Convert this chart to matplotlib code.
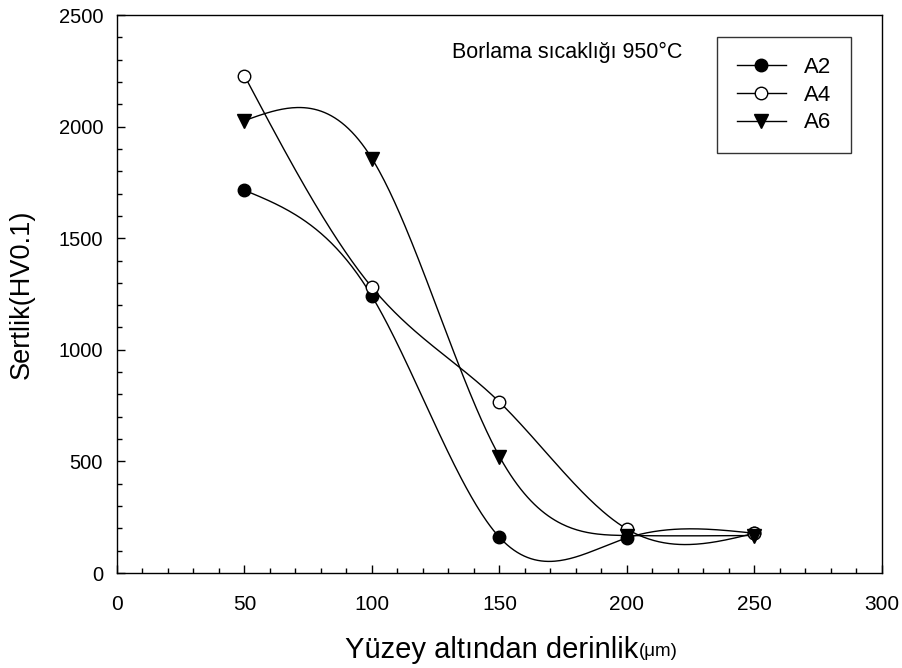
import numpy as np
import matplotlib.pyplot as plt
from matplotlib.ticker import MultipleLocator

plt.rcParams['font.family'] = ['Liberation Sans', 'DejaVu Sans']

# Data
depth = [50, 100, 150, 200, 250]
a2 = [1715, 1240, 160, 157, 178]
a4 = [2228, 1280, 766, 197, 178]
a6 = [2027, 1857, 522, 168, 168]


def natural_spline(x, y, n=300):
    """Natural cubic spline through the points (smooth line like SigmaPlot)."""
    x = np.asarray(x, float)
    y = np.asarray(y, float)
    k = len(x)
    h = np.diff(x)
    A = np.zeros((k, k))
    r = np.zeros(k)
    A[0, 0] = A[-1, -1] = 1.0
    for i in range(1, k - 1):
        A[i, i - 1] = h[i - 1]
        A[i, i] = 2 * (h[i - 1] + h[i])
        A[i, i + 1] = h[i]
        r[i] = 6 * ((y[i + 1] - y[i]) / h[i] - (y[i] - y[i - 1]) / h[i - 1])
    M = np.linalg.solve(A, r)
    xs = np.linspace(x[0], x[-1], n)
    idx = np.clip(np.searchsorted(x, xs) - 1, 0, k - 2)
    x0, x1 = x[idx], x[idx + 1]
    hh = x1 - x0
    ys = (M[idx] * (x1 - xs) ** 3 / (6 * hh) + M[idx + 1] * (xs - x0) ** 3 / (6 * hh)
          + (y[idx] / hh - M[idx] * hh / 6) * (x1 - xs)
          + (y[idx + 1] / hh - M[idx + 1] * hh / 6) * (xs - x0))
    return xs, ys


fig = plt.figure(figsize=(9.02, 6.68), dpi=100)
ax = fig.add_axes([0.1297, 0.1422, 0.848, 0.8353])

series = [("A2", a2, 'o', 'black', 9), ("A4", a4, 'o', 'white', 9), ("A6", a6, 'v', 'black', 10.5)]
for name, vals, mk, fc, ms in series:
    xs, ys = natural_spline(depth, vals)
    ax.plot(xs, ys, color='black', lw=1.0, zorder=2)
    ax.plot(depth, vals, linestyle='none', marker=mk, markersize=ms,
            markerfacecolor=fc, markeredgecolor='black', markeredgewidth=1.0, zorder=3)
    # legend proxy
    ax.plot([], [], color='black', lw=1.0, marker=mk, markersize=ms,
            markerfacecolor=fc, markeredgecolor='black', label=name)

ax.set_xlim(0, 300)
ax.set_ylim(0, 2500)
ax.xaxis.set_major_locator(MultipleLocator(50))
ax.xaxis.set_minor_locator(MultipleLocator(10))
ax.yaxis.set_major_locator(MultipleLocator(500))
ax.yaxis.set_minor_locator(MultipleLocator(100))
ax.tick_params(which='both', direction='in', top=False, right=False)
ax.tick_params(which='major', length=6, width=1.0)
ax.tick_params(which='minor', length=3.5, width=1.0)
ax.tick_params(axis='x', pad=16, labelsize=15)
ax.tick_params(axis='y', pad=10, labelsize=14.5)
for s in ax.spines.values():
    s.set_linewidth(1.0)

ax.set_xlabel("Yüzey altından derinlik", fontsize=21)
ax.xaxis.set_label_coords(0.49, -0.138)
ax.xaxis.label.set_va('center')
ax.annotate("(μm)", xy=(1, 0), xycoords=ax.xaxis.label, xytext=(0.5, 3),
            textcoords='offset points', fontsize=13.5, ha='left', va='bottom')

ax.set_ylabel("Sertlik(HV0.1)", fontsize=19.5)
ax.yaxis.set_label_coords(-0.1242, 0.5)
ax.yaxis.label.set_va('center')

fig.text(452 / 902, (668 - 58) / 668, "Borlama sıcaklığı 950°C", fontsize=15.5,
         va='baseline', ha='left')

leg = ax.legend(loc='upper left', bbox_to_anchor=(717 / 902, (668 - 37) / 668),
                bbox_transform=fig.transFigure, fontsize=16, frameon=True,
                fancybox=False, shadow=False, handlelength=2.2, labelspacing=0.3,
                borderpad=0.9, handletextpad=0.8, borderaxespad=0)
leg.get_frame().set_edgecolor('black')
leg.get_frame().set_linewidth(1.0)

fig.savefig("out.png", dpi=100)
